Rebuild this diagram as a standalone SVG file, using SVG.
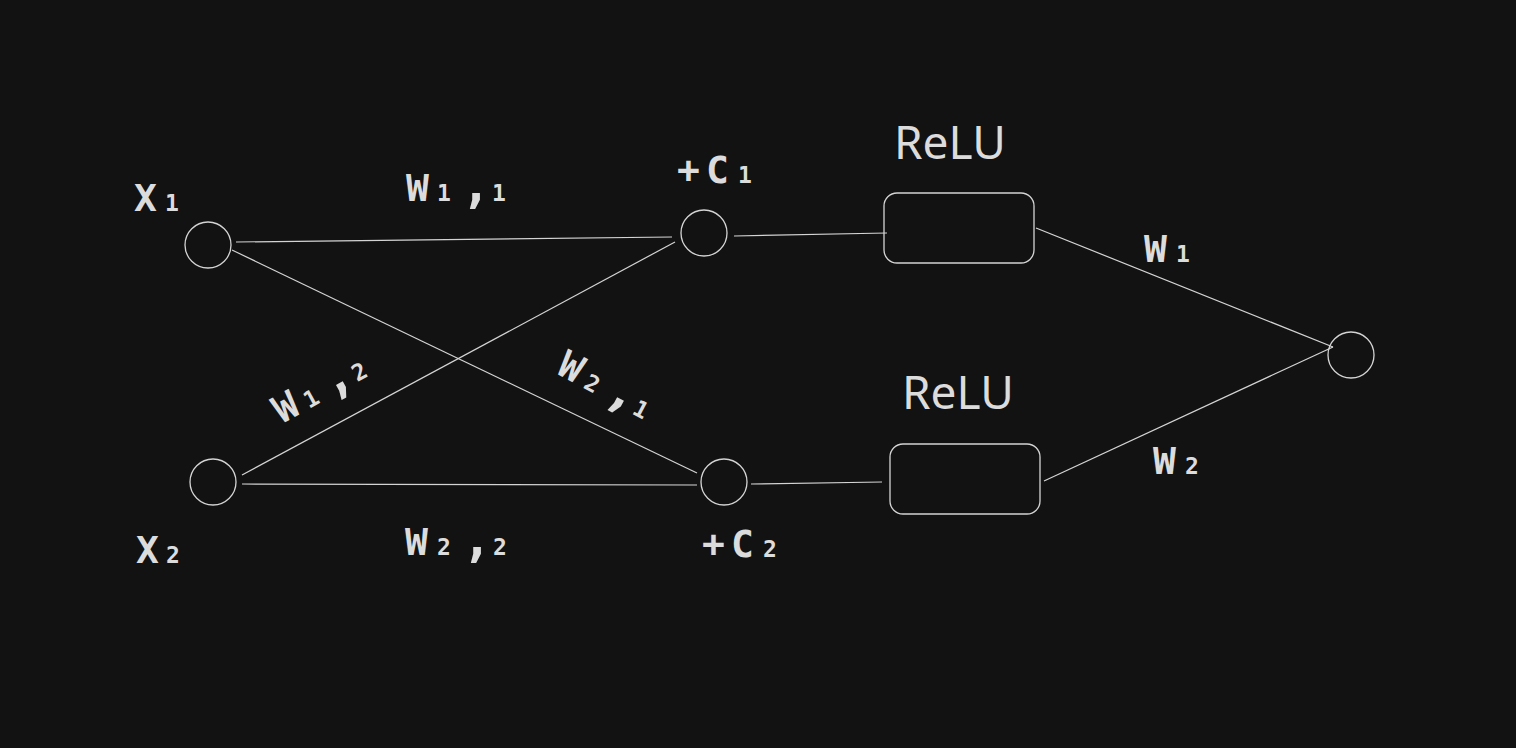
<svg xmlns="http://www.w3.org/2000/svg" width="1516" height="748" viewBox="0 0 1516 748">
<style>
.bg{fill:#121212}
.n{fill:none;stroke:#d4d4d4;stroke-width:1.3}
.c line{stroke:#d4d4d4;stroke-width:1.2}
.t{font-family:"DejaVu Sans Mono","Liberation Mono",monospace;font-weight:bold;font-size:38px;fill:#dcdcdc}
.s{font-size:23px}
.cm{font-size:50px}
.r{font-family:"Noto Sans","Liberation Sans",sans-serif;font-size:46px;fill:#dcdcdc}
</style>
<rect class="bg" x="0" y="0" width="1516" height="748"/>
<g id="connectors" class="c">
<line x1="236" y1="242" x2="672" y2="237"/>
<line x1="232" y1="250" x2="697" y2="473"/>
<line x1="242" y1="475" x2="675" y2="242"/>
<line x1="242" y1="484" x2="697" y2="485"/>
<line x1="734" y1="236" x2="887" y2="233"/>
<line x1="751" y1="484" x2="882" y2="482"/>
<line x1="1036" y1="228" x2="1333" y2="347"/>
<line x1="1044" y1="481" x2="1333" y2="347"/>
</g>
<g id="x1"><circle class="n" cx="208" cy="245" r="23"/>
<text class="t" x="134" y="211">X<tspan class="s" x="165">1</tspan></text></g>
<g id="x2"><circle class="n" cx="213" cy="482" r="23"/>
<text class="t" x="136" y="563">X<tspan class="s" x="166">2</tspan></text></g>
<g id="c1"><circle class="n" cx="704" cy="233" r="23"/>
<text class="t" x="677" y="183">+<tspan x="706">C</tspan><tspan class="s" x="738">1</tspan></text></g>
<g id="c2"><circle class="n" cx="724" cy="482" r="23"/>
<text class="t" x="702" y="557">+<tspan x="731">C</tspan><tspan class="s" x="763">2</tspan></text></g>
<g id="out"><circle class="n" cx="1351" cy="355" r="23"/></g>
<g id="relu1"><rect class="n" x="884" y="193" width="150" height="70" rx="13"/>
<text class="r" x="894" y="159">ReLU</text></g>
<g id="relu2"><rect class="n" x="890" y="444" width="150" height="70" rx="13"/>
<text class="r" x="902" y="409">ReLU</text></g>
<g id="labels">
<text class="t" x="406" y="201">W<tspan class="s" x="437">1</tspan><tspan class="cm" x="461" y="202">,</tspan><tspan class="s" x="492" y="201">1</tspan></text>
<text class="t" x="405" y="555">W<tspan class="s" x="437">2</tspan><tspan class="cm" x="462" y="556">,</tspan><tspan class="s" x="493" y="555">2</tspan></text>
<text class="t" x="1144" y="262">W<tspan class="s" x="1176">1</tspan></text>
<text class="t" x="1153" y="474">W<tspan class="s" x="1185">2</tspan></text>
<text class="t" transform="translate(282,424) rotate(-29)">W<tspan class="s" x="31">1</tspan><tspan class="cm" x="55" y="1">,</tspan><tspan class="s" x="86" y="0">2</tspan></text>
<text class="t" transform="translate(555,373) rotate(28)">W<tspan class="s" x="31">2</tspan><tspan class="cm" x="55" y="1">,</tspan><tspan class="s" x="86" y="0">1</tspan></text>
</g>
</svg>
